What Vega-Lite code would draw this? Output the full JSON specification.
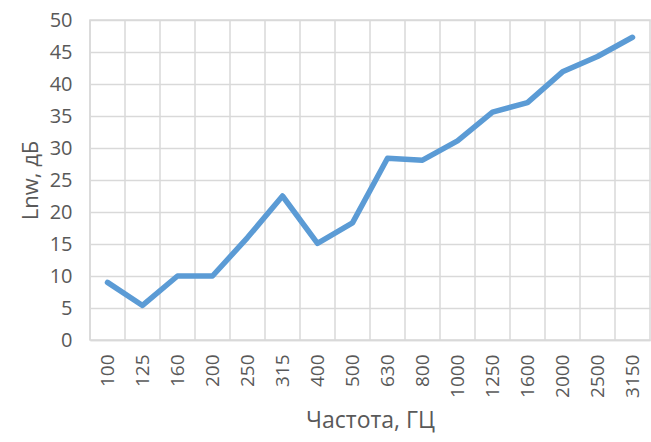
{
  "$schema": "https://vega.github.io/schema/vega-lite/v6.json",
  "autosize": "none",
  "width": 560,
  "height": 320,
  "padding": {"left": 90, "top": 20, "right": 1, "bottom": 102},
  "background": "white",
  "config": {
    "view": {"stroke": "#d9d9d9", "strokeWidth": 1.5},
    "font": "Open Sans",
    "axis": {"labelColor": "#595959", "titleColor": "#595959", "labelFont": "Open Sans", "titleFont": "Open Sans", "titleFontWeight": "normal"}
  },
  "data": {
    "values": [
      {"f": "100", "v": 9.0},
      {"f": "125", "v": 5.4},
      {"f": "160", "v": 10.0},
      {"f": "200", "v": 10.0},
      {"f": "250", "v": 16.0},
      {"f": "315", "v": 22.5},
      {"f": "400", "v": 15.1},
      {"f": "500", "v": 18.3},
      {"f": "630", "v": 28.4},
      {"f": "800", "v": 28.1},
      {"f": "1000", "v": 31.1},
      {"f": "1250", "v": 35.6},
      {"f": "1600", "v": 37.1},
      {"f": "2000", "v": 41.9},
      {"f": "2500", "v": 44.3},
      {"f": "3150", "v": 47.3}
    ]
  },
  "layer": [
    {
      "mark": {"type": "rule", "stroke": "#d9d9d9", "strokeWidth": 1.5},
      "encoding": {
        "x": {"field": "f", "type": "ordinal", "sort": null, "bandPosition": 0}
      }
    },
    {
      "mark": {"type": "line", "stroke": "#5b9bd5", "strokeWidth": 5.5, "strokeCap": "round", "strokeJoin": "round"},
      "encoding": {
        "x": {
          "field": "f", "type": "ordinal", "sort": null,
          "scale": {"paddingInner": 0, "paddingOuter": 0},
          "axis": {
            "title": "Частота, ГЦ", "titleFontSize": 23, "titlePadding": 12,
            "labelAngle": -90, "labelFontSize": 19, "labelPadding": 14,
            "ticks": false, "grid": false, "domainColor": "#d9d9d9", "domainWidth": 1.5
          }
        },
        "y": {
          "field": "v", "type": "quantitative",
          "scale": {"domain": [0, 50], "nice": false},
          "axis": {
            "title": "Lnw, дБ", "titleFontSize": 22, "titlePadding": 7,
            "values": [0, 5, 10, 15, 20, 25, 30, 35, 40, 45, 50],
            "labelFontSize": 20, "labelPadding": 18,
            "ticks": false, "domain": false,
            "gridColor": "#d9d9d9", "gridWidth": 1.5
          }
        }
      }
    }
  ]
}
